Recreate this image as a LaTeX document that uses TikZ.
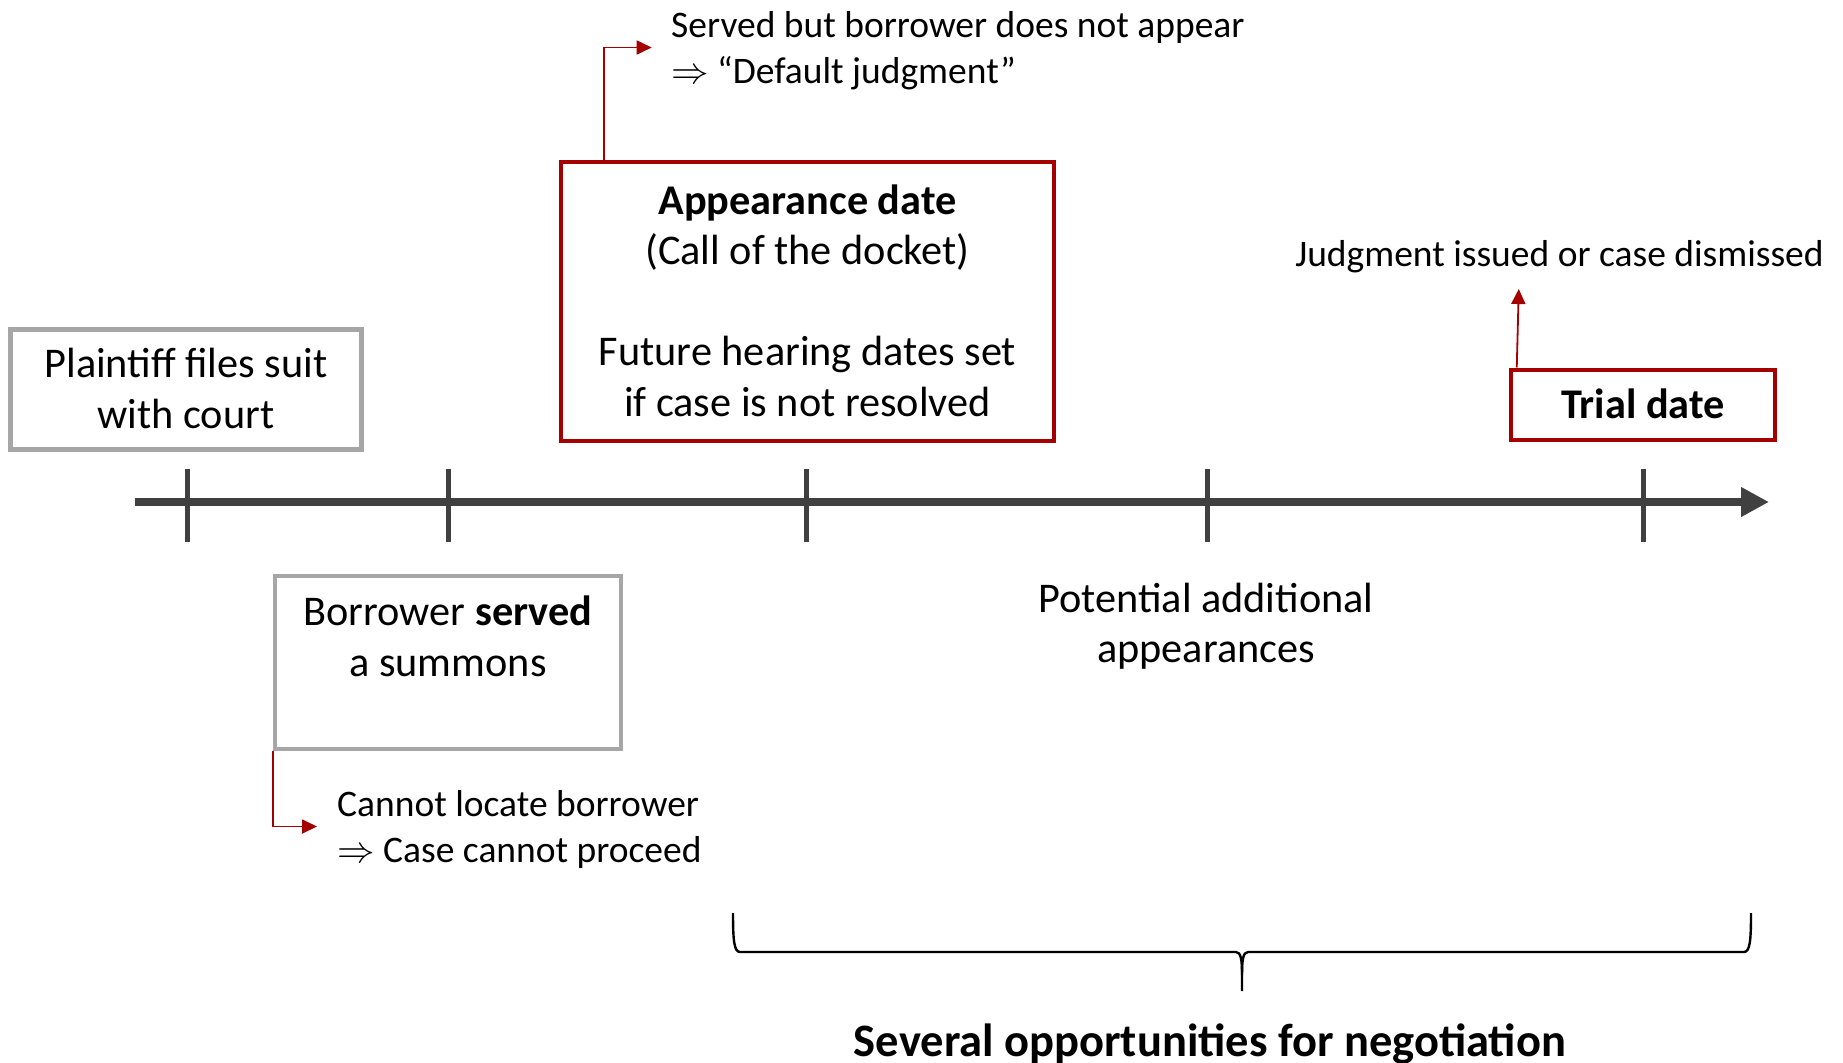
\documentclass[tikz,border=0pt]{standalone}
\usepackage{fix-cm}
\usepackage{fontspec}
\setmainfont{Carlito}
\usetikzlibrary{arrows.meta}
\definecolor{boxred}{RGB}{165,0,0}
\definecolor{boxgray}{RGB}{166,166,166}
\definecolor{axisgray}{RGB}{64,64,64}
\newcommand\bigfnt{\fontsize{42.3}{50.5}\selectfont}
\newcommand\smallfnt{\fontsize{37.5}{46}\selectfont}
\newcommand\hugefnt{\fontsize{46.5}{56}\selectfont}
\newcommand\topstrut{\rule{0pt}{\dimexpr0.7\baselineskip+7pt\relax}}
\newcommand\botstrut{\rule[-0.3\baselineskip]{0pt}{0.3\baselineskip}}
\tikzset{
  graybox/.style={draw=boxgray, line width=4.5pt, inner sep=0pt, align=center, font=\bigfnt},
  redbox/.style={draw=boxred, line width=4pt, inner sep=0pt, align=center, font=\bigfnt},
  note/.style={inner sep=0pt, align=left, font=\smallfnt},
  plain/.style={inner sep=0pt, align=center, font=\bigfnt},
  redarrow/.style={draw=boxred, line width=1.8pt, -{Triangle[length=15pt,width=14pt]}},
  axisline/.style={draw=axisgray, line width=8pt, -{Triangle[length=28pt,width=28pt]}},
  tickline/.style={draw=axisgray, line width=5pt},
  bracepath/.style={draw=black, line width=2.4pt}
}
\begin{document}
\begin{tikzpicture}[x=1pt,y=-1pt]
\useasboundingbox (0,0) rectangle (1843,1062);

% timeline
\coordinate (tlstart) at (135,502);
\coordinate (tlend) at (1769,502);
\draw[axisline] (tlstart) -- (tlend);
\foreach \t/\x in {t1/187,t2/448,t3/806,t4/1207,t5/1643}{
  \coordinate (\t top) at (\x,469);
  \coordinate (\t bot) at (\x,542);
  \draw[tickline] (\t top) -- (\t bot);
}

% boxes
\node[graybox, minimum width=351pt, minimum height=120pt] (plaintiff) at (186,389.5)
  {\topstrut Plaintiff files suit\\with court\botstrut};
\node[graybox, minimum width=346pt, minimum height=173pt] (borrower) at (448,662.5)
  {\topstrut Borrower \textbf{served}\\a summons\\\botstrut};
\node[redbox, minimum width=493pt, minimum height=279pt] (app) at (807.5,301.5)
  {\topstrut\textbf{Appearance date}\\(Call of the docket)\\[50.5pt]Future hearing dates set\\if case is not resolved\botstrut};
\node[redbox, minimum width=264.5pt, minimum height=70pt] (trial) at (1643,404.5)
  {\topstrut\textbf{Trial date}\botstrut};

% plain labels
\node[plain] (potential) at (1206,624) {\topstrut Potential additional\\appearances\botstrut};
\node[note, anchor=west] (served) at (671,47.5)
  {\topstrut Served but borrower does not appear\\$\Rightarrow$ “Default judgment”\botstrut};
\node[note, anchor=west] (cannot) at (337,826.5)
  {\topstrut Cannot locate borrower\\$\Rightarrow$ Case cannot proceed\botstrut};
\node[note] (judg) at (1559.5,254) {\topstrut Judgment issued or case dismissed\botstrut};
\node[inner sep=0pt, font=\hugefnt\bfseries, anchor=base] (nego) at (1210,1056)
  {Several opportunities for negotiation};

% red connectors
\draw[redarrow] ([xshift=44.7pt]app.north west) |- ([xshift=-19.3pt]served.west);
\draw[redarrow] (borrower.south west) |- ([xshift=-20pt]cannot.west);
\coordinate (jtip) at (1518.75,289);
\draw[redarrow] ([xshift=8pt]trial.north west) -- (jtip);

% brace
\coordinate (brL) at (733,913);
\coordinate (brR) at (1751,913);
\coordinate (brTip) at (1242,991);
\draw[bracepath] (brL) .. controls (733,940) and (734,952) .. (740,952)
  -- (1236,952) .. controls (1241,952) and (1242,960) .. (1242,975) -- (brTip);
\draw[bracepath] (brR) .. controls (1751,940) and (1750,952) .. (1744,952)
  -- (1248,952) .. controls (1243,952) and (1242,960) .. (1242,975);
\end{tikzpicture}
\end{document}
